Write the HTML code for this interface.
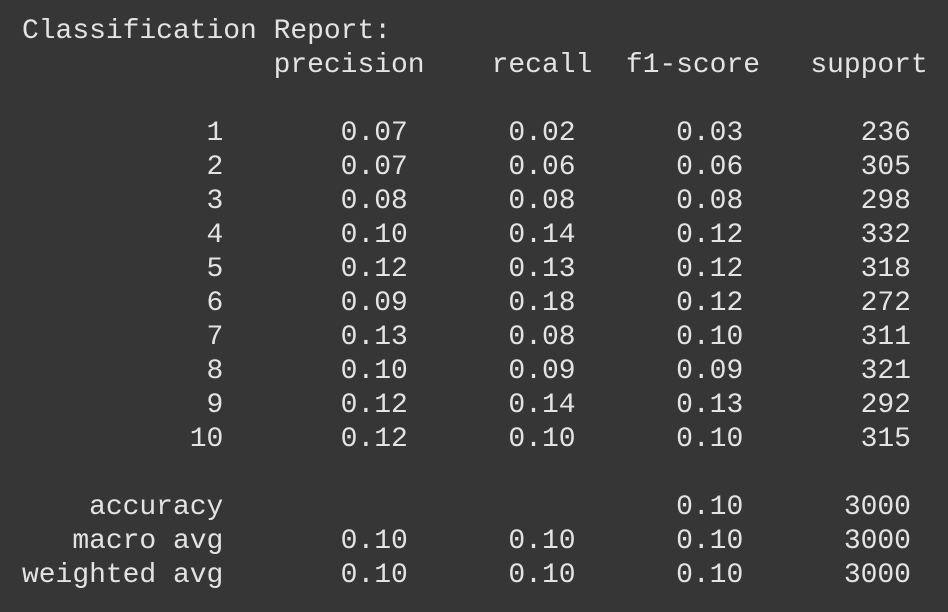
<!DOCTYPE html>
<html><head><meta charset="utf-8"><style>
html,body{margin:0;padding:0;background:#363636;width:948px;height:612px;overflow:hidden}
pre{position:absolute;left:22px;top:15px;margin:0;font-family:"Liberation Mono","DejaVu Sans Mono",monospace;font-size:28px;line-height:34px;color:#e3e3e3;letter-spacing:-0.03px}
span{display:block;height:34px}
</style></head><body>
<pre><span>Classification Report:</span><span>               precision    recall  f1-score   support</span><span> </span><span>           1       0.07      0.02      0.03       236</span><span>           2       0.07      0.06      0.06       305</span><span>           3       0.08      0.08      0.08       298</span><span>           4       0.10      0.14      0.12       332</span><span>           5       0.12      0.13      0.12       318</span><span>           6       0.09      0.18      0.12       272</span><span>           7       0.13      0.08      0.10       311</span><span>           8       0.10      0.09      0.09       321</span><span>           9       0.12      0.14      0.13       292</span><span>          10       0.12      0.10      0.10       315</span><span> </span><span>    accuracy                           0.10      3000</span><span>   macro avg       0.10      0.10      0.10      3000</span><span>weighted avg       0.10      0.10      0.10      3000</span></pre>
</body></html>
